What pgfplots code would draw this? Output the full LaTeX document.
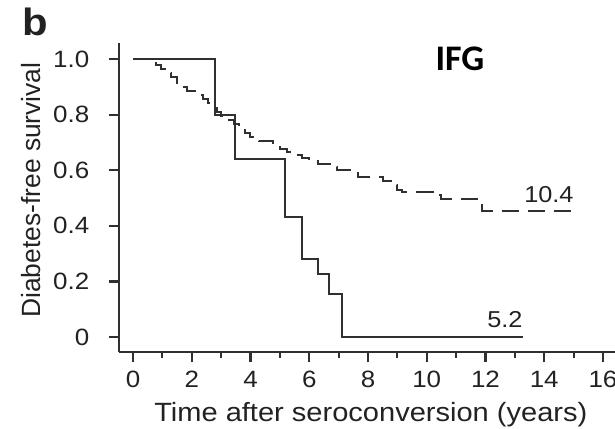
\documentclass[border=0pt]{standalone}
\usepackage{pgfplots}
\pgfplotsset{compat=1.18}
\usepackage{fontspec}
\setmainfont{Liberation Sans}[FakeStretch=1.1]
\newfontfamily\plainsans{Liberation Sans}
\newfontfamily\calibri{Carlito}
\definecolor{ink}{HTML}{222222}
\definecolor{linec}{HTML}{303030}
\begin{document}
\begin{tikzpicture}
\path[use as bounding box] (0,0) rectangle (307.5pt,214pt);
\clip (0,0) rectangle (307.5pt,214pt);
\node[anchor=center, text=ink, font=\fontsize{19}{22}\selectfont\bfseries] at (17.5pt,203pt) {b};
\begin{axis}[
  at={(59.5pt,38pt)}, anchor=south west,
  scale only axis, width=250.8pt, height=154.5pt,
  xmin=-0.4766, xmax=16.6, ymin=-0.05396, ymax=1.0576,
  axis x line*=bottom, axis y line*=left,
  axis line style={linec, line width=1.1pt},
  xtick={0,2,...,16}, minor xtick={1,3,...,15},
  ytick={0,0.2,0.4,0.6,0.8,1.0}, yticklabels={0,0.2,0.4,0.6,0.8,1.0},
  tick align=outside,
  major tick length=5.2pt, minor tick length=3pt,
  tick style={linec, line width=1.1pt},
  /pgf/number format/assume math mode=true,
  ticklabel style={font=\fontsize{11.8}{14}\selectfont, text=ink},
  xticklabel style={anchor=base, inner sep=0pt, yshift=-12.5pt},
  yticklabel style={anchor=east, inner sep=0pt, xshift=-9.5pt},
  xlabel={Time after seroconversion (years)},
  xlabel style={at={([yshift=-34.5pt]axis description cs:0.502,0)}, anchor=base, inner sep=0pt, font=\fontsize{13.2}{15}\selectfont, text=ink},
  ylabel={Diabetes-free survival},
  ylabel style={at={([xshift=-44pt]axis description cs:0,0.524)}, anchor=center, inner sep=0pt, font=\plainsans\fontsize{13.2}{15}\selectfont, text=ink},
  clip=false,
]
\addplot[const plot, linec, line width=1pt] coordinates {
(0,1) (2.79,0.8) (3.47,0.64) (5.17,0.43) (5.74,0.28) (6.29,0.225) (6.67,0.155) (7.1,0) (13.27,0)
};
\addplot[const plot, linec, line width=1pt, dash pattern=on 8.5pt off 4.5pt] coordinates {
(0,1) (0.55,0.993) (0.8,0.98) (0.95,0.965) (1.1,0.95) (1.3,0.935) (1.5,0.915) (1.65,0.9)
(1.85,0.885) (2.1,0.87) (2.4,0.855) (2.55,0.84) (2.7,0.825) (2.85,0.81) (3.0,0.795)
(3.2,0.78) (3.45,0.765) (3.6,0.75) (3.8,0.735) (4.0,0.718) (4.3,0.705) (4.75,0.69)
(5.0,0.675) (5.25,0.665) (5.5,0.655) (5.75,0.643) (6.0,0.633) (6.3,0.622) (6.75,0.61)
(6.95,0.60) (7.5,0.59) (7.65,0.575) (8.5,0.56) (8.8,0.545) (9.0,0.53) (9.15,0.522)
(10.2,0.51) (10.5,0.495) (11.88,0.455) (15.0,0.455)
};
\node[text=ink, font=\fontsize{11.5}{13}\selectfont] at (axis cs:14.16,0.511) {10.4};
\node[text=ink, font=\fontsize{11.5}{13}\selectfont] at (axis cs:12.66,0.061) {5.2};
\node[text=black, font=\calibri\bfseries\fontsize{18}{21}\selectfont] at (axis cs:11.13,1.0) {IFG};
\end{axis}
\end{tikzpicture}
\end{document}
